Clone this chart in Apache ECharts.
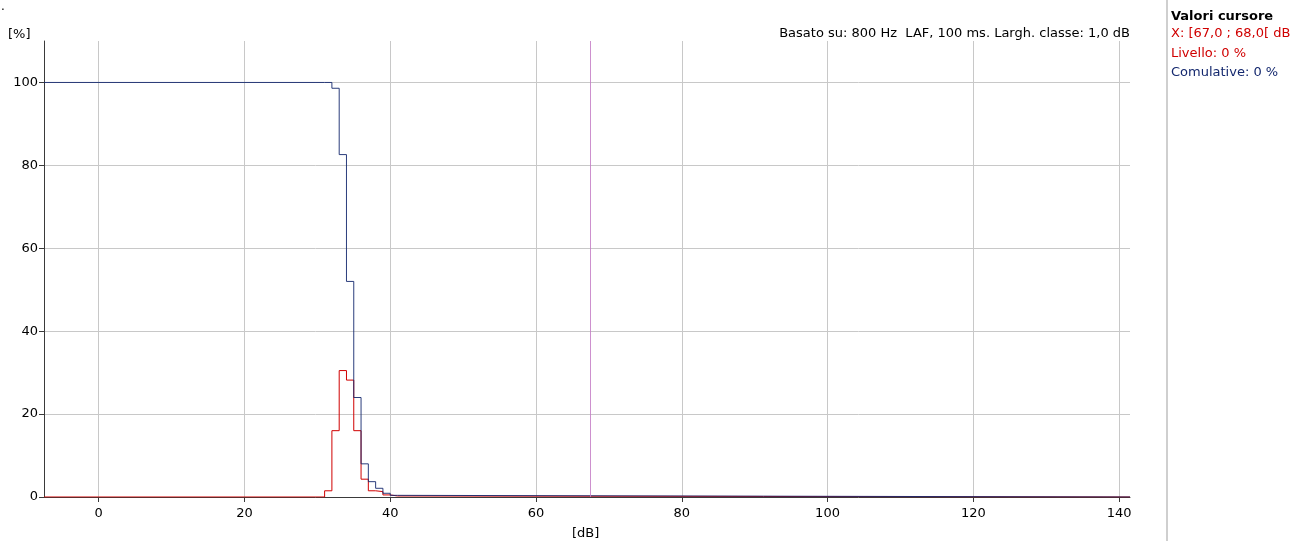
<!DOCTYPE html>
<html>
<head>
<meta charset="utf-8">
<script src="https://cdn.jsdelivr.net/npm/echarts@6/dist/echarts.min.js"></script>
<style>
  html, body { margin: 0; padding: 0; background: #fff; }
  #chart { width: 1309px; height: 541px; }
</style>
</head>
<body>
<div id="chart"></div>
<script>
// Level distribution, 1 dB classes: each entry is the start of a class
// (first and last entries are the ends of the dB axis)
const binStart = [-7.5, 31, 32, 33, 34, 35, 36, 37, 38, 39, 40, 41, 141.5];
// Percentage of time in each class (Livello)
const levelPct = [0, 1.5, 16, 30.5, 28.2, 16, 4.3, 1.5, 1.3, 0.5, 0.25, 0, 0];
// Cumulative percentage at or above each class (Comulative)
const cumulativePct = [100, 100, 98.6, 82.6, 52, 24, 8, 3.7, 2.1, 0.9, 0.4, 0, 0];

const xTicks = [0, 20, 40, 60, 80, 100, 120, 140];
const yTicks = [0, 20, 40, 60, 80, 100];
const cursorDb = 67.5;

const FONT = 'DejaVu Sans';
const FS = 13;
const RED = '#d00000';
const NAVY = '#14286e';
const GRID = '#c8c8c8';
const AXIS = '#3a3a3a';

const levelData = binStart.map((x, i) => [x, levelPct[i]]);
const cumulativeData = binStart.map((x, i) => [x, cumulativePct[i]]);

const chart = echarts.init(document.getElementById('chart'), null, { renderer: 'canvas' });

chart.setOption({
  animation: false,
  backgroundColor: '#fff',
  textStyle: { fontFamily: FONT },
  grid: { left: 44, right: 179, top: 41, bottom: 44, containLabel: false },
  xAxis: {
    type: 'value',
    min: -7.5,
    max: 141.5,
    axisLine: { show: true, onZero: false, lineStyle: { color: AXIS, width: 1 } },
    axisTick: { show: true, length: 5, lineStyle: { color: AXIS }, customValues: xTicks },
    axisLabel: { customValues: xTicks, color: '#000', fontFamily: FONT, fontSize: FS, margin: 10 },
    splitLine: { show: true, lineStyle: { color: GRID, width: 1 } }
  },
  yAxis: {
    type: 'value',
    min: 0,
    max: 110,
    axisLine: { show: true, onZero: false, lineStyle: { color: AXIS, width: 1 } },
    axisTick: { show: true, length: 5, lineStyle: { color: AXIS }, customValues: yTicks },
    axisLabel: { customValues: yTicks, color: '#000', fontFamily: FONT, fontSize: FS, margin: 6 },
    splitLine: { show: true, lineStyle: { color: GRID, width: 1 } }
  },
  series: [
    {
      name: 'Livello',
      type: 'line',
      step: 'end',
      data: levelData,
      symbol: 'none',
      lineStyle: { color: RED, width: 1 },
      z: 3,
      markLine: {
        silent: true,
        symbol: 'none',
        label: { show: false },
        lineStyle: { color: '#c47cc6', width: 1, type: 'solid', opacity: 0.85 },
        data: [{ xAxis: cursorDb }]
      }
    },
    {
      name: 'Comulative',
      type: 'line',
      step: 'end',
      data: cumulativeData,
      symbol: 'none',
      lineStyle: { color: NAVY, width: 1, opacity: 0.9 },
      z: 4
    }
  ],
  graphic: [
    { type: 'text', left: 1, top: 1, style: { text: '.', fontFamily: FONT, fontSize: 12, fill: '#000' } },
    { type: 'text', left: 8, top: 28, style: { text: '[%]', fontFamily: FONT, fontSize: FS, fill: '#000' } },
    { type: 'text', right: 179, top: 27, style: { text: 'Basato su: 800 Hz  LAF, 100 ms. Largh. classe: 1,0 dB', fontFamily: FONT, fontSize: FS, fill: '#000' } },
    { type: 'text', left: 572, top: 527, style: { text: '[dB]', fontFamily: FONT, fontSize: FS, fill: '#000' } },
    { type: 'rect', shape: { x: 1166, y: 0, width: 2, height: 541 }, style: { fill: '#cfcfcf' } },
    { type: 'text', left: 1171, top: 10, style: { text: 'Valori cursore', fontFamily: FONT, fontSize: FS, fontWeight: 'bold', fill: '#000' } },
    { type: 'text', left: 1171, top: 27, style: { text: 'X: [67,0 ; 68,0[ dB', fontFamily: FONT, fontSize: FS, fill: RED } },
    { type: 'text', left: 1171, top: 47, style: { text: 'Livello: 0 %', fontFamily: FONT, fontSize: FS, fill: RED } },
    { type: 'text', left: 1171, top: 66, style: { text: 'Comulative: 0 %', fontFamily: FONT, fontSize: FS, fill: NAVY } }
  ]
});
</script>
</body>
</html>
